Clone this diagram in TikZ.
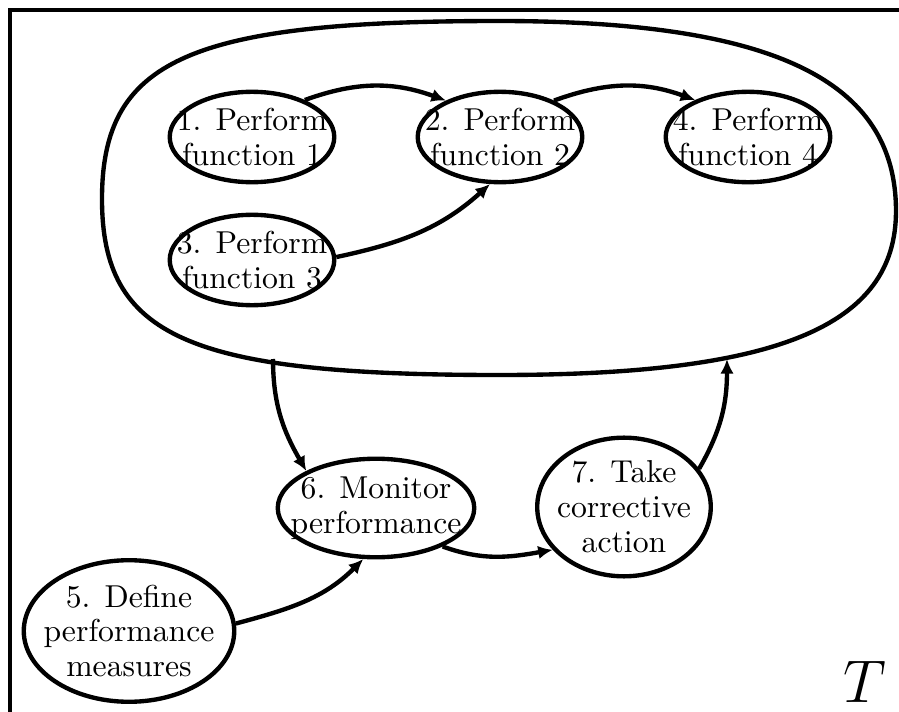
\documentclass[tikz,border=0pt]{standalone}
\usepackage{amsmath}
\usepackage{tikz}
\usetikzlibrary{shapes.geometric,arrows.meta}

\begin{document}
\begin{tikzpicture}[x=0.344pt, y=0.344pt,
    every node/.style={font=\fontsize{10.9pt}{12pt}\selectfont},
    proc/.style={ellipse, draw, line width=1.5pt, align=center, inner xsep=-8pt, inner ysep=-4pt},
    flow/.style={line width=1.5pt, -{Latex[length=5pt,width=4.6pt]}}]
        \useasboundingbox (0,0) rectangle (899,711);
        \draw[line width=1.1pt] (10,-10) -- (10,701) -- (910,701);
        % the group of functions
        \draw[line width=1.5pt] (102,512) .. controls (102,651) and (189,690) .. (499,690)
            .. controls (775,690) and (896,630) .. (896,500)
            .. controls (896,385) and (778,336) .. (499,336)
            .. controls (189,336) and (102,374) .. (102,512) -- cycle;
        \coordinate (grpin) at (273,352);
        \coordinate (grpout) at (727,352);
        \node[proc, minimum width=56.6pt, minimum height=31.1pt] (f1) at (252,574) {1. Perform\\function 1};
        \node[proc, minimum width=56.6pt, minimum height=31.1pt] (f2) at (500,574) {2. Perform\\function 2};
        \node[proc, minimum width=56.6pt, minimum height=31.1pt] (f4) at (748,574) {4. Perform\\function 4};
        \node[proc, minimum width=56.6pt, minimum height=31.1pt] (f3) at (252,451) {3. Perform\\function 3};
        \node[proc, minimum width=67.6pt, minimum height=33.9pt] (mon) at (376,203) {6. Monitor\\performance};
        \node[proc, minimum width=59.7pt, minimum height=47.7pt] (act) at (624,204) {7. Take\\corrective\\action};
        \node[proc, minimum width=72.4pt, minimum height=48.7pt] (def) at (129,80) {5. Define\\performance\\measures};
        \node[anchor=base east, inner xsep=2pt, inner ysep=0pt, font=\huge] (tlabel) at (893,9) {$T$};
        \draw[flow] (f1.35) to[out=20, in=160] (f2.146);
        \draw[flow] (f2.34) to[out=20, in=160] (f4.145);
        \draw[flow] (f3.2) to[out=12, in=222] (f2.258);
        \draw[flow] (grpin) to[out=-90, in=120] (mon.152);
        \draw[flow] (mon.-30) to[out=-20, in=190] (act.211);
        \draw[flow] (act.27) to[out=60, in=-90] (grpout);
        \draw[flow] (def.4) to[out=15, in=225] (mon.256);
    \end{tikzpicture}
\end{document}
